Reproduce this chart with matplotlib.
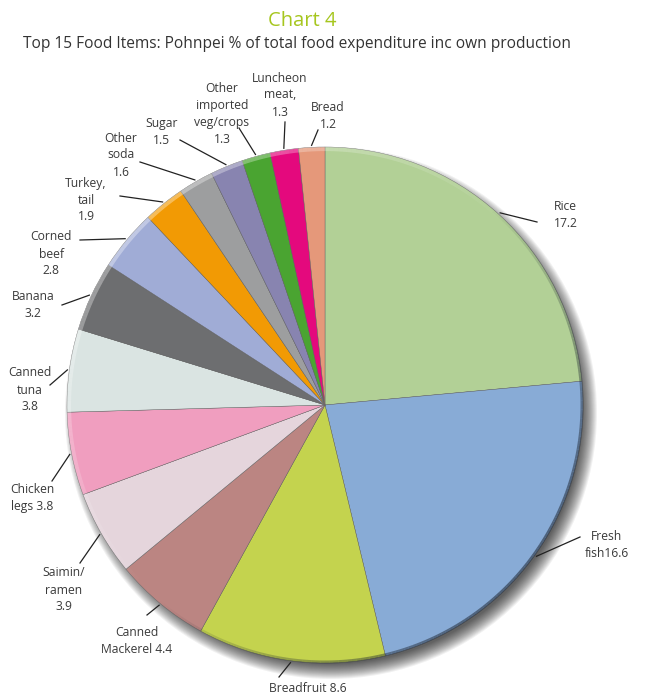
import numpy as np
import matplotlib
matplotlib.use("Agg")
import matplotlib.pyplot as plt
from matplotlib.patches import Circle
from matplotlib.collections import LineCollection

labels = ["Rice\n17.2", "Fresh\nfish16.6", "Breadfruit 8.6", "Canned\nMackerel 4.4",
          "Saimin/\nramen\n3.9", "Chicken\nlegs 3.8", "Canned\ntuna\n3.8", "Banana\n3.2",
          "Corned\nbeef\n2.8", "Turkey,\ntail\n1.9", "Other\nsoda\n1.6", "Sugar\n1.5",
          "Other\nimported\nveg/crops\n1.3", "Luncheon\nmeat,\n1.3", "Bread\n1.2"]
values = [17.2, 16.6, 8.6, 4.4, 3.9, 3.8, 3.8, 3.2, 2.8, 1.9, 1.6, 1.5, 1.3, 1.3, 1.2]
colors = ["#b2d096", "#88abd6", "#c4d34e", "#bb8582", "#e5d5dc", "#f09ebf", "#dae4e2",
          "#6d6e70", "#a0acd6", "#f29a04", "#9d9e9f", "#8884b0", "#4aa431", "#e4097d", "#e5987a"]

# layout: text anchor (pixel coords, y from top), leader end (pixel coords)
text_pos = [(554, 215, 'left'), (607, 545, 'center'), (308, 688, 'center'), (137, 641, 'center'),
            (64, 590, 'center'), (32, 498, 'center'), (30, 390, 'center'), (33, 305, 'center'),
            (51, 254, 'center'), (86, 200, 'center'), (121, 155, 'center'), (162, 132, 'center'),
            (222, 114, 'center'), (280, 95, 'center'), (328, 116, 'center')]
leader_end = [(537, 222), (580, 537), (279, 677), (147, 615), (80, 563), (52, 481), (50, 385),
              (62, 305), (80, 240), (120, 196), (140, 162), (180, 140), (239, 128), (285, 122), (318, 130)]

W, H = 645, 697
fig = plt.figure(figsize=(W / 100, H / 100), dpi=100)
ax = fig.add_axes([0, 0, 1, 1])
plt.rcParams['font.family'] = ['Open Sans', 'DejaVu Sans']

cx, cy, R = 325, H - 405, 258

# soft shadow
for i in range(16):
    ax.add_patch(Circle((cx + 6, cy - 8), R + 8 - i, color='black', alpha=0.055, lw=0, zorder=1))

wedges, _ = ax.pie(values, colors=colors, startangle=90, counterclock=False,
                   center=(cx, cy), radius=R, frame=True,
                   wedgeprops=dict(edgecolor='#666666', linewidth=0.3))
for w in wedges:
    w.set_zorder(2)

# bevel: light rim towards top-left, dark rim towards bottom-right (smooth gradient)
th = np.deg2rad(np.arange(0, 361, 1.0))
mids = (th[:-1] + th[1:]) / 2


def rim(radius):
    pts = np.column_stack([cx + radius * np.cos(th), cy + radius * np.sin(th)])
    return np.stack([pts[:-1], pts[1:]], axis=1)


light_a = np.clip(np.cos(mids - np.deg2rad(135)), 0, None) * 0.35
dark_a = np.clip(np.cos(mids - np.deg2rad(-40)), 0, None) * 0.55
lc_light = LineCollection(rim(R - 2), colors=[(1, 1, 1, a) for a in light_a], linewidths=3,
                          capstyle='butt', zorder=3)
lc_dark = LineCollection(rim(R - 1), colors=[(0.11, 0.14, 0.19, a) for a in dark_a], linewidths=2.2,
                         capstyle='butt', zorder=3)
ax.add_collection(lc_light)
ax.add_collection(lc_dark)

for w, lab, tp, le in zip(wedges, labels, text_pos, leader_end):
    ang = np.deg2rad((w.theta1 + w.theta2) / 2)
    sx, sy = cx + (R + 2) * np.cos(ang), cy + (R + 2) * np.sin(ang)
    ax.plot([sx, le[0]], [sy, H - le[1]], color='#222222', lw=0.9, zorder=4)
    ax.text(tp[0], H - tp[1], lab, ha=tp[2], va='center', fontsize=8.7, color='#3a3a3a',
            linespacing=1.4, zorder=5)

ax.text(302, H - 21, "Chart 4", ha='center', va='center', fontsize=14.5, color='#a6c61f')
ax.text(297, H - 44, "Top 15 Food Items: Pohnpei % of total food expenditure inc own production",
        ha='center', va='center', fontsize=11.2, color='#333333')

ax.set_xlim(0, W)
ax.set_ylim(0, H)
ax.set_aspect('equal')
ax.axis('off')
fig.savefig("out.png", dpi=100)
